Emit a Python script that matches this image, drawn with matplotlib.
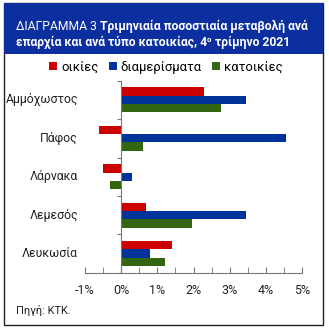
import matplotlib
matplotlib.use("agg")
import matplotlib.pyplot as plt
from matplotlib.patches import Rectangle
import numpy as np

plt.rcParams["font.family"] = ["Roboto", "DejaVu Sans"]

# data (percent change, Q4 2021)
regions = ["Αμμόχωστος", "Πάφος", "Λάρνακα", "Λεμεσός", "Λευκωσία"]
series = ["οικίες", "διαμερίσματα", "κατοικίες"]
houses = [2.3, -0.6, -0.5, 0.7, 1.4]
flats = [3.45, 4.55, 0.3, 3.45, 0.8]
dwellings = [2.75, 0.6, -0.3, 1.95, 1.2]
xticks = [-1, 0, 1, 2, 3, 4, 5]
xticklabels = ["-1%", "0%", "1%", "2%", "3%", "4%", "5%"]

colors = ["#cc0000", "#003399", "#336611"]
header_blue = "#0b2f9f"

W, H = 329, 332
fig = plt.figure(figsize=(W / 100, H / 100), dpi=100)

def px(x, y):
    return x / W, 1 - y / H

# frame + header band
x0, y0 = px(4, 325)
x1, y1 = px(323, 3)
fig.patches.append(Rectangle((x0, y0), x1 - x0, y1 - y0, transform=fig.transFigure,
                             facecolor="white", edgecolor="#222222", lw=1, zorder=-2))
hb = px(4, 54)[1]
fig.patches.append(Rectangle((x0, hb), x1 - x0, y1 - hb, transform=fig.transFigure,
                             facecolor=header_blue, edgecolor="none", zorder=-1))

# title, pieced together so the bold and superscript parts sit in line
renderer = fig.canvas.get_renderer()

def chain(parts, x, y):
    for txt, size, weight, dy in parts:
        t = fig.text(x, y + dy / H, txt, color="white", va="baseline", ha="left",
                     fontsize=size, fontweight=weight)
        bb = t.get_window_extent(renderer=renderer)
        x = x + bb.width / fig.bbox.width

tx, ty = px(16, 30)
chain([("ΔΙΑΓΡΑΜΜΑ 3 ", 8.7, "normal", 0),
       ("Τριμηνιαία ποσοστιαία μεταβολή ανά", 8.7, "bold", 0)], tx, ty)
ty2 = px(16, 46)[1]
chain([("επαρχία και ανά τύπο κατοικίας, 4", 8.7, "bold", 0),
       ("ο", 5.6, "bold", 4),
       (" τρίμηνο 2021", 8.7, "bold", 0)], tx, ty2)

# chart
l, b = px(85, 272.7)
r, t = px(302, 80.7)
ax = fig.add_axes([l, b, r - l, t - b])
ax.set_facecolor("none")

y = np.arange(len(regions))
h = 0.217
for i, (vals, name) in enumerate(zip([houses, flats, dwellings], series)):
    ax.barh(y + (i - 1) * h, vals, height=h, color=colors[i], label=name, zorder=2)

ax.set_xlim(-1, 5)
ax.set_ylim(len(regions) - 0.5, -0.5)
ax.set_xticks(xticks)
ax.set_xticklabels(xticklabels, fontsize=9, color="#222222")
ax.set_xticks(np.arange(-1, 5.01, 0.5), minor=True)
ax.tick_params(axis="x", which="both", direction="in", length=4, color="#777777", pad=8)

ax.spines["left"].set_position(("data", 0))
ax.spines["top"].set_visible(False)
ax.spines["right"].set_visible(False)
for s in ("left", "bottom"):
    ax.spines[s].set_color("#777777")
    ax.spines[s].set_linewidth(0.8)
ax.set_yticks(np.arange(-0.5, len(regions), 1.0))
ax.set_yticklabels([])
ax.tick_params(axis="y", direction="out", length=3, color="#777777")

for yi, name in zip(y, regions):
    ax.text(-0.032, yi, name, transform=ax.get_yaxis_transform(), ha="right",
            va="center", fontsize=8.8, color="#222222")

fig.legend(loc="center", bbox_to_anchor=px(166, 67), ncol=3, frameon=False,
           fontsize=9.4, handlelength=0.6, handleheight=0.6, handletextpad=0.3,
           columnspacing=0.8, borderpad=0)

sx, sy = px(16, 314)
fig.text(sx, sy, "Πηγή: ΚΤΚ.", fontsize=8, color="#222222", va="baseline")

fig.savefig("out.png", dpi=100)
